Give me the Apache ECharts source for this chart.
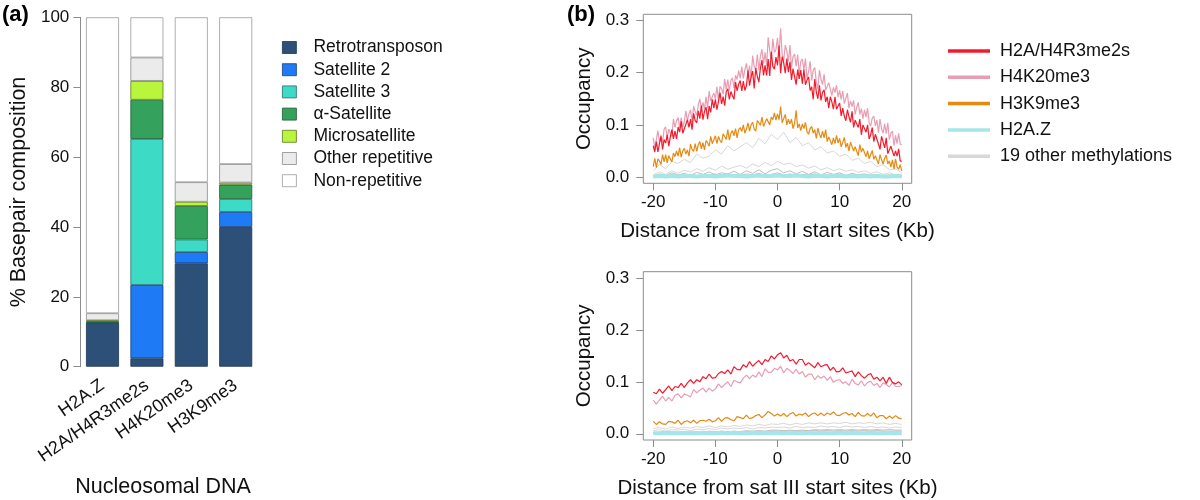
<!DOCTYPE html>
<html><head><meta charset="utf-8">
<script src="https://cdn.jsdelivr.net/npm/echarts@6/dist/echarts.min.js"></script>
<style>html,body{margin:0;padding:0;background:#fff}#c{width:1200px;height:500px}</style>
</head><body><div id="c"></div>
<script>
// ---------- Panel (a): stacked composition ----------
const barCategories = ['H2A.Z', 'H2A/H4R3me2s', 'H4K20me3', 'H3K9me3'];
const retrotransposon = [12.5, 2.4, 29.6, 40.0];
const satellite2 = [0.1, 21.0, 3.2, 4.3];
const satellite3 = [0.1, 41.8, 3.6, 3.7];
const alphaSatellite = [0.3, 11.2, 9.6, 4.1];
const microsatellite = [0.3, 5.4, 1.2, 0.6];
const otherRepetitive = [2.0, 6.7, 5.6, 5.3];
const nonRepetitive = [84.7, 11.5, 47.2, 42.0];

// ---------- Panel (b): occupancy profiles ----------
const xKbFine = [
 -20,-19.75,-19.5,-19.25, -19,-18.75,-18.5,-18.25, -18,-17.75,-17.5,-17.25, -17,-16.75,-16.5,-16.25,
 -16,-15.75,-15.5,-15.25, -15,-14.75,-14.5,-14.25, -14,-13.75,-13.5,-13.25, -13,-12.75,-12.5,-12.25,
 -12,-11.75,-11.5,-11.25, -11,-10.75,-10.5,-10.25, -10,-9.75,-9.5,-9.25, -9,-8.75,-8.5,-8.25,
 -8,-7.75,-7.5,-7.25, -7,-6.75,-6.5,-6.25, -6,-5.75,-5.5,-5.25, -5,-4.75,-4.5,-4.25,
 -4,-3.75,-3.5,-3.25, -3,-2.75,-2.5,-2.25, -2,-1.75,-1.5,-1.25, -1,-0.75,-0.5,-0.25,
 0,0.25,0.5,0.75, 1,1.25,1.5,1.75, 2,2.25,2.5,2.75, 3,3.25,3.5,3.75,
 4,4.25,4.5,4.75, 5,5.25,5.5,5.75, 6,6.25,6.5,6.75, 7,7.25,7.5,7.75,
 8,8.25,8.5,8.75, 9,9.25,9.5,9.75, 10,10.25,10.5,10.75, 11,11.25,11.5,11.75,
 12,12.25,12.5,12.75, 13,13.25,13.5,13.75, 14,14.25,14.5,14.75, 15,15.25,15.5,15.75,
 16,16.25,16.5,16.75, 17,17.25,17.5,17.75, 18,18.25,18.5,18.75, 19,19.25,19.5,19.75,
 20];
const xKb = [
 -20,-19.5,-19,-18.5,-18,-17.5,-17,-16.5,-16,-15.5,
 -15,-14.5,-14,-13.5,-13,-12.5,-12,-11.5,-11,-10.5,
 -10,-9.5,-9,-8.5,-8,-7.5,-7,-6.5,-6,-5.5,
 -5,-4.5,-4,-3.5,-3,-2.5,-2,-1.5,-1,-0.5,
 0,0.5,1,1.5,2,2.5,3,3.5,4,4.5,
 5,5.5,6,6.5,7,7.5,8,8.5,9,9.5,
 10,10.5,11,11.5,12,12.5,13,13.5,14,14.5,
 15,15.5,16,16.5,17,17.5,18,18.5,19,19.5,
 20];
const xKbCoarse = [-20,-19,-18,-17,-16,-15,-14,-13,-12,-11,-10,-9,-8,-7,-6,-5,-4,-3,-2,-1,0,
 1,2,3,4,5,6,7,8,9,10,11,12,13,14,15,16,17,18,19,20];
const xTicks = [-20, -10, 0, 10, 20];
const yTicks = [0, 0.1, 0.2, 0.3];

// sat II (x = xKbFine)
const satII_H2A_H4R3me2s = [
 0.060,0.048,0.068,0.048, 0.064,0.078,0.053,0.072, 0.065,0.081,0.059,0.077, 0.091,0.073,0.088,0.073,
 0.096,0.086,0.107,0.084, 0.082,0.101,0.110,0.095, 0.111,0.091,0.122,0.108, 0.104,0.127,0.112,0.137,
 0.110,0.126,0.134,0.111, 0.136,0.124,0.149,0.132, 0.149,0.129,0.145,0.162, 0.140,0.154,0.137,0.164,
 0.169,0.149,0.164,0.156, 0.149,0.182,0.165,0.178, 0.185,0.165,0.184,0.166, 0.175,0.204,0.175,0.192,
 0.203,0.170,0.209,0.193, 0.182,0.209,0.224,0.195, 0.214,0.195,0.226,0.194, 0.240,0.212,0.207,0.230,
 0.214,0.252,0.199,0.231, 0.219,0.199,0.227,0.201, 0.221,0.186,0.208,0.209, 0.177,0.206,0.188,0.205,
 0.179,0.206,0.177,0.186, 0.192,0.166,0.173,0.149, 0.188,0.163,0.150,0.176, 0.147,0.163,0.167,0.144,
 0.154,0.132,0.154,0.144, 0.130,0.154,0.130,0.130, 0.142,0.117,0.132,0.117, 0.108,0.129,0.116,0.105,
 0.126,0.095,0.109,0.112, 0.095,0.111,0.081,0.100, 0.101,0.086,0.100,0.073, 0.081,0.095,0.068,0.082,
 0.084,0.063,0.053,0.078, 0.067,0.056,0.075,0.045, 0.045,0.059,0.060,0.040, 0.050,0.040,0.054,0.031,
 0.030];
const satII_H4K20me3 = [
 0.075,0.055,0.072,0.089, 0.067,0.081,0.065,0.092, 0.096,0.076,0.092,0.084, 0.078,0.111,0.095,0.108,
 0.114,0.094,0.114,0.096, 0.106,0.127,0.108,0.121, 0.129,0.106,0.136,0.125, 0.118,0.138,0.150,0.130,
 0.143,0.130,0.154,0.132, 0.165,0.146,0.144,0.161, 0.150,0.173,0.148,0.174, 0.169,0.159,0.188,0.168,
 0.187,0.165,0.186,0.190, 0.171,0.195,0.187,0.204, 0.189,0.212,0.189,0.206, 0.218,0.196,0.213,0.189,
 0.233,0.212,0.205,0.235, 0.205,0.232,0.245,0.218, 0.239,0.213,0.268,0.242, 0.227,0.265,0.239,0.244,
 0.267,0.233,0.285,0.235, 0.223,0.253,0.242,0.221, 0.253,0.210,0.231,0.236, 0.212,0.235,0.196,0.222,
 0.226,0.205,0.227,0.189, 0.201,0.222,0.185,0.205, 0.210,0.182,0.169,0.205, 0.188,0.177,0.197,0.167,
 0.167,0.181,0.181,0.156, 0.172,0.162,0.176,0.153, 0.166,0.149,0.165,0.141, 0.151,0.161,0.132,0.146,
 0.135,0.147,0.120,0.134, 0.143,0.120,0.131,0.112, 0.129,0.115,0.132,0.104, 0.098,0.113,0.117,0.098,
 0.109,0.085,0.111,0.093, 0.084,0.102,0.083,0.104, 0.072,0.084,0.088,0.060, 0.080,0.064,0.084,0.063,
 0.062];
const satII_H3K9me3 = [
 0.020,0.036,0.018,0.035, 0.031,0.024,0.043,0.029, 0.043,0.027,0.041,0.043, 0.029,0.046,0.039,0.050,
 0.040,0.056,0.038,0.050, 0.055,0.044,0.052,0.040, 0.063,0.053,0.049,0.064, 0.049,0.062,0.068,0.054,
 0.066,0.052,0.070,0.066, 0.059,0.078,0.064,0.067, 0.079,0.064,0.078,0.070, 0.066,0.083,0.080,0.072,
 0.091,0.071,0.084,0.089, 0.079,0.093,0.075,0.091, 0.095,0.087,0.100,0.084, 0.092,0.104,0.088,0.100,
 0.105,0.092,0.088,0.108, 0.104,0.099,0.115,0.097, 0.100,0.112,0.115,0.100, 0.115,0.110,0.123,0.109,
 0.121,0.110,0.135,0.104, 0.112,0.120,0.100,0.111, 0.102,0.111,0.093,0.103, 0.128,0.094,0.102,0.089,
 0.102,0.093,0.105,0.087, 0.082,0.093,0.097,0.084, 0.091,0.074,0.094,0.082, 0.075,0.088,0.075,0.091,
 0.068,0.077,0.080,0.062, 0.075,0.064,0.080,0.065, 0.074,0.058,0.066,0.076, 0.057,0.065,0.050,0.067,
 0.066,0.050,0.058,0.050, 0.041,0.062,0.048,0.055, 0.055,0.039,0.050,0.035, 0.038,0.051,0.034,0.041,
 0.043,0.025,0.043,0.033, 0.025,0.036,0.042,0.025, 0.031,0.019,0.033,0.015, 0.035,0.019,0.015,0.024,
 0.012];
// (x = xKbCoarse)
const satII_H2AZ = [0.001,0.002,0.001,0.002,0.001,0.002,0.002,0.001,0.002,0.002,0.001,0.002,0.003,0.002,0.002,0.001,0.002,0.003,0.002,0.002,0.003,
 0.002,0.002,0.003,0.002,0.001,0.002,0.002,0.001,0.002,0.002,0.001,0.002,0.001,0.002,0.001,0.002,0.001,0.001,0.002,0.001];
const satII_other1 = [0.012,0.024,0.016,0.030,0.026,0.034,0.028,0.044,0.036,0.040,0.052,0.044,0.060,0.050,0.058,0.066,0.056,0.074,0.064,0.082,0.072,
 0.086,0.066,0.076,0.060,0.066,0.052,0.058,0.046,0.050,0.040,0.044,0.032,0.036,0.026,0.030,0.020,0.024,0.014,0.016,0.008];
const satII_other2 = [0.004,0.010,0.005,0.012,0.007,0.013,0.010,0.016,0.011,0.018,0.013,0.021,0.015,0.019,0.022,0.017,0.025,0.020,0.028,0.022,0.030,
 0.024,0.027,0.020,0.023,0.017,0.021,0.014,0.018,0.012,0.016,0.011,0.014,0.009,0.012,0.007,0.010,0.005,0.008,0.004,0.005];
const satII_other3 = [0.002,0.006,0.003,0.008,0.004,0.007,0.003,0.009,0.005,0.010,0.004,0.008,0.006,0.011,0.005,0.012,0.007,0.014,0.006,0.013,0.016,
 0.008,0.012,0.006,0.011,0.005,0.010,0.004,0.009,0.005,0.008,0.003,0.007,0.004,0.006,0.003,0.005,0.002,0.004,0.002,0.003];
const satII_other4 = [0.001,0.003,0.002,0.004,0.002,0.003,0.005,0.002,0.004,0.003,0.006,0.002,0.004,0.005,0.003,0.006,0.004,0.007,0.003,0.005,0.008,
 0.004,0.006,0.003,0.005,0.004,0.006,0.002,0.004,0.003,0.005,0.002,0.004,0.003,0.002,0.004,0.002,0.003,0.001,0.002,0.001];

// sat III (x = xKb)
const satIII_H2A_H4R3me2s = [
 0.080,0.077,0.086,0.078,0.085,0.092,0.083,0.091,0.089,0.097,
 0.089,0.098,0.104,0.097,0.104,0.100,0.110,0.106,0.115,0.107,
 0.108,0.116,0.120,0.116,0.123,0.115,0.129,0.124,0.123,0.133,
 0.128,0.139,0.130,0.136,0.141,0.133,0.143,0.139,0.150,0.144,
 0.152,0.156,0.146,0.151,0.140,0.143,0.134,0.143,0.143,0.132,
 0.137,0.132,0.127,0.137,0.129,0.132,0.133,0.122,0.128,0.119,
 0.120,0.127,0.117,0.119,0.121,0.110,0.119,0.112,0.107,0.113,
 0.116,0.105,0.109,0.102,0.109,0.097,0.109,0.099,0.096,0.100,
 0.094];
const satIII_H4K20me3 = [
 0.065,0.057,0.065,0.072,0.063,0.070,0.063,0.074,0.077,0.069,
 0.077,0.074,0.071,0.085,0.079,0.084,0.088,0.080,0.088,0.082,
 0.086,0.096,0.089,0.095,0.100,0.091,0.103,0.100,0.098,0.107,
 0.113,0.106,0.113,0.109,0.119,0.110,0.125,0.118,0.118,0.126,
 0.123,0.130,0.117,0.126,0.122,0.116,0.124,0.115,0.120,0.109,
 0.115,0.115,0.104,0.112,0.107,0.111,0.103,0.110,0.099,0.103,
 0.104,0.097,0.100,0.093,0.105,0.097,0.094,0.102,0.092,0.099,
 0.101,0.093,0.097,0.089,0.098,0.095,0.090,0.099,0.091,0.091,
 0.093];
const satIII_H3K9me3 = [
 0.024,0.018,0.023,0.019,0.018,0.024,0.023,0.020,0.026,0.018,
 0.023,0.025,0.021,0.026,0.020,0.025,0.026,0.024,0.028,0.023,
 0.025,0.031,0.024,0.030,0.031,0.027,0.025,0.033,0.031,0.029,
 0.036,0.029,0.031,0.035,0.037,0.031,0.036,0.043,0.039,0.034,
 0.038,0.034,0.039,0.033,0.038,0.041,0.034,0.038,0.036,0.040,
 0.033,0.038,0.040,0.035,0.040,0.035,0.040,0.037,0.042,0.036,
 0.035,0.039,0.041,0.036,0.039,0.033,0.041,0.035,0.034,0.039,
 0.034,0.040,0.031,0.035,0.035,0.029,0.034,0.030,0.035,0.030,
 0.029];
// (x = xKbCoarse)
const satIII_H2AZ = [0.001,0.001,0.002,0.001,0.001,0.002,0.001,0.001,0.002,0.001,0.001,0.002,0.001,0.002,0.001,0.001,0.002,0.001,0.002,0.001,0.002,
 0.001,0.002,0.001,0.001,0.002,0.001,0.002,0.001,0.001,0.002,0.001,0.002,0.001,0.001,0.002,0.001,0.001,0.002,0.001,0.001];
const satIII_other1 = [0.010,0.012,0.009,0.013,0.010,0.013,0.011,0.014,0.012,0.015,0.012,0.015,0.013,0.016,0.014,0.017,0.015,0.018,0.016,0.019,0.018,
 0.020,0.017,0.020,0.018,0.021,0.019,0.021,0.019,0.021,0.020,0.022,0.019,0.021,0.020,0.022,0.019,0.021,0.018,0.020,0.018];
const satIII_other2 = [0.006,0.008,0.005,0.008,0.007,0.009,0.006,0.009,0.008,0.010,0.008,0.011,0.009,0.011,0.010,0.012,0.009,0.012,0.011,0.013,0.012,
 0.013,0.011,0.014,0.012,0.013,0.012,0.015,0.013,0.014,0.012,0.015,0.013,0.014,0.012,0.014,0.012,0.013,0.011,0.013,0.012];
const satIII_other3 = [0.002,0.003,0.002,0.004,0.003,0.004,0.003,0.004,0.003,0.005,0.004,0.005,0.004,0.005,0.004,0.006,0.005,0.006,0.005,0.007,0.007,
 0.006,0.007,0.006,0.007,0.006,0.008,0.007,0.008,0.007,0.008,0.007,0.008,0.007,0.008,0.007,0.008,0.007,0.008,0.007,0.007];
const satIII_other4 = [0.001,0.002,0.001,0.002,0.002,0.003,0.002,0.003,0.002,0.003,0.003,0.004,0.003,0.004,0.003,0.004,0.004,0.005,0.004,0.005,0.005,
 0.004,0.005,0.004,0.005,0.005,0.006,0.005,0.006,0.005,0.006,0.005,0.006,0.005,0.006,0.005,0.006,0.005,0.005,0.005,0.005];

// ---------- build ----------
const FONT = 'Liberation Sans, Arial, Helvetica, sans-serif';
const pairs = (xs, ys) => ys.map((y, i) => [xs[i], y]);

const barDefs = [
  ['Retrotransposon', retrotransposon, '#2c5078', '#1e3550'],
  ['Satellite 2', satellite2, '#1f7af5', '#1a3f7a'],
  ['Satellite 3', satellite3, '#3ddac6', '#2a6e66'],
  ['α-Satellite', alphaSatellite, '#34a25c', '#1f5a35'],
  ['Microsatellite', microsatellite, '#b8f53c', '#5c7a20'],
  ['Other repetitive', otherRepetitive, '#ebebeb', '#8a8a8a'],
  ['Non-repetitive', nonRepetitive, '#ffffff', '#9a9a9a']
];
const series = barDefs.map(([name, data, color, border]) => ({
  type: 'bar', name, data, stack: 'comp', xAxisIndex: 0, yAxisIndex: 0,
  barWidth: 33, silent: true,
  itemStyle: { color, borderColor: border, borderWidth: 0.8 }
}));

const C = { red: '#f41a2c', pink: '#e99db2', orange: '#e68a12', cyan: '#a6e6e6', gray: '#d8d8d8', gray2: '#bdbdbd' };
function panelSeries(idx, xMain, others, cyan, orange, pink, red) {
  const out = [];
  const grayCols = [C.gray, C.gray, C.gray2, C.gray2];
  others.forEach((ys, k) => out.push({
    type: 'line', name: '19 other methylations', data: pairs(xKbCoarse, ys), xAxisIndex: idx, yAxisIndex: idx,
    showSymbol: false, silent: true, color: C.gray, lineStyle: { color: grayCols[k], width: 1 }
  }));
  out.push({ type: 'line', name: 'H2A.Z', data: pairs(xKbCoarse, cyan), xAxisIndex: idx, yAxisIndex: idx,
    showSymbol: false, silent: true, color: C.cyan, lineStyle: { color: C.cyan, width: 4 } });
  out.push({ type: 'line', name: 'H3K9me3', data: pairs(xMain, orange), xAxisIndex: idx, yAxisIndex: idx,
    showSymbol: false, silent: true, color: C.orange, lineStyle: { color: C.orange, width: 1.2 } });
  out.push({ type: 'line', name: 'H4K20me3', data: pairs(xMain, pink), xAxisIndex: idx, yAxisIndex: idx,
    showSymbol: false, silent: true, color: C.pink, lineStyle: { color: C.pink, width: 1.2 } });
  out.push({ type: 'line', name: 'H2A/H4R3me2s', data: pairs(xMain, red), xAxisIndex: idx, yAxisIndex: idx,
    showSymbol: false, silent: true, color: C.red, lineStyle: { color: C.red, width: 1.2 } });
  return out;
}
series.push(...panelSeries(1, xKbFine, [satII_other1, satII_other2, satII_other3, satII_other4], satII_H2AZ, satII_H3K9me3, satII_H4K20me3, satII_H2A_H4R3me2s));
series.push(...panelSeries(2, xKb, [satIII_other1, satIII_other2, satIII_other3, satIII_other4], satIII_H2AZ, satIII_H3K9me3, satIII_H4K20me3, satIII_H2A_H4R3me2s));

const AX = '#8c8c8c', TXT = '#111';
function lineX(name, gap) {
  return {
    type: 'value', min: -21.6, max: 21.6,
    name, nameLocation: 'middle', nameGap: gap,
    nameTextStyle: { fontFamily: FONT, fontSize: 20.5, color: TXT },
    axisLine: { show: false, onZero: false },
    axisTick: { show: true, length: 7, lineStyle: { color: AX }, customValues: xTicks },
    axisLabel: { fontFamily: FONT, fontSize: 17, color: TXT, margin: 11, customValues: xTicks },
    splitLine: { show: false }
  };
}
function lineY() {
  return {
    type: 'value', min: -0.012, max: 0.312,
    name: 'Occupancy', nameLocation: 'middle', nameGap: 48,
    nameTextStyle: { fontFamily: FONT, fontSize: 20.5, color: TXT },
    axisLine: { show: false, onZero: false },
    axisTick: { show: true, length: 7, lineStyle: { color: AX }, customValues: yTicks },
    axisLabel: { fontFamily: FONT, fontSize: 17, color: TXT, margin: 14, customValues: yTicks,
      formatter: v => v.toFixed(1) },
    splitLine: { show: false }
  };
}
const xAxes = [
  { type: 'category', gridIndex: 0, data: barCategories,
    axisLine: { show: false }, axisTick: { show: false },
    axisLabel: { rotate: 35, fontFamily: FONT, fontSize: 18, color: TXT, margin: 17, interval: 0 },
    name: 'Nucleosomal DNA', nameLocation: 'middle', nameGap: 109,
    nameTextStyle: { fontFamily: FONT, fontSize: 21.5, color: TXT, padding: [0, 12, 0, 0] } },
  Object.assign(lineX('Distance from sat II start sites (Kb)', 38), { gridIndex: 1 }),
  Object.assign(lineX('Distance from sat III start sites (Kb)', 38), { gridIndex: 2 })
];
const yAxes = [
  { type: 'value', gridIndex: 0, min: 0, max: 100, interval: 20,
    name: '% Basepair composition', nameLocation: 'middle', nameGap: 50,
    nameTextStyle: { fontFamily: FONT, fontSize: 21.5, color: TXT },
    axisLine: { show: true, lineStyle: { color: AX } },
    axisTick: { show: true, length: 7, lineStyle: { color: AX } },
    axisLabel: { fontFamily: FONT, fontSize: 17, color: TXT, margin: 11 },
    splitLine: { show: false } },
  Object.assign(lineY(), { gridIndex: 1 }),
  Object.assign(lineY(), { gridIndex: 2 })
];

const option = {
  animation: false,
  backgroundColor: '#fff',
  textStyle: { fontFamily: FONT },
  grid: [
    { left: 80.3, top: 17.3, width: 177.6, height: 349.4, outerBoundsMode: 'none' },
    { left: 643.3, top: 14.3, width: 268.4, height: 169, outerBoundsMode: 'none', show: true, borderColor: AX, borderWidth: 1, backgroundColor: 'transparent' },
    { left: 643.3, top: 271.7, width: 268.4, height: 168.3, outerBoundsMode: 'none', show: true, borderColor: AX, borderWidth: 1, backgroundColor: 'transparent' }
  ],
  xAxis: xAxes,
  yAxis: yAxes,
  legend: [
    { orient: 'vertical', left: 282, top: 38.5, padding: 0, itemWidth: 14, itemHeight: 12, itemGap: 4.2,
      icon: 'rect', selectedMode: false,
      data: barDefs.map(d => d[0]),
      itemStyle: { borderWidth: 0.8 },
      textStyle: { fontFamily: FONT, fontSize: 17.5, color: TXT, lineHeight: 18, padding: [0, 0, 0, 12] } },
    { orient: 'vertical', left: 948, top: 41, padding: 0, itemWidth: 42, itemHeight: 3.5, itemGap: 6.3,
      icon: 'rect', selectedMode: false,
      data: ['H2A/H4R3me2s', 'H4K20me3', 'H3K9me3', 'H2A.Z', '19 other methylations'],
      textStyle: { fontFamily: FONT, fontSize: 18, color: TXT, lineHeight: 20, padding: [0, 0, 0, 5] } }
  ],
  graphic: [
    { type: 'text', left: 2, top: 4, style: { text: '(a)', fontFamily: FONT, fontSize: 22, fontWeight: 'bold', fill: '#000' } },
    { type: 'text', left: 567, top: 4, style: { text: '(b)', fontFamily: FONT, fontSize: 22, fontWeight: 'bold', fill: '#000' } }
  ],
  series
};
const chart = echarts.init(document.getElementById('c'), null, { renderer: 'canvas' });
chart.setOption(option);
</script></body></html>
